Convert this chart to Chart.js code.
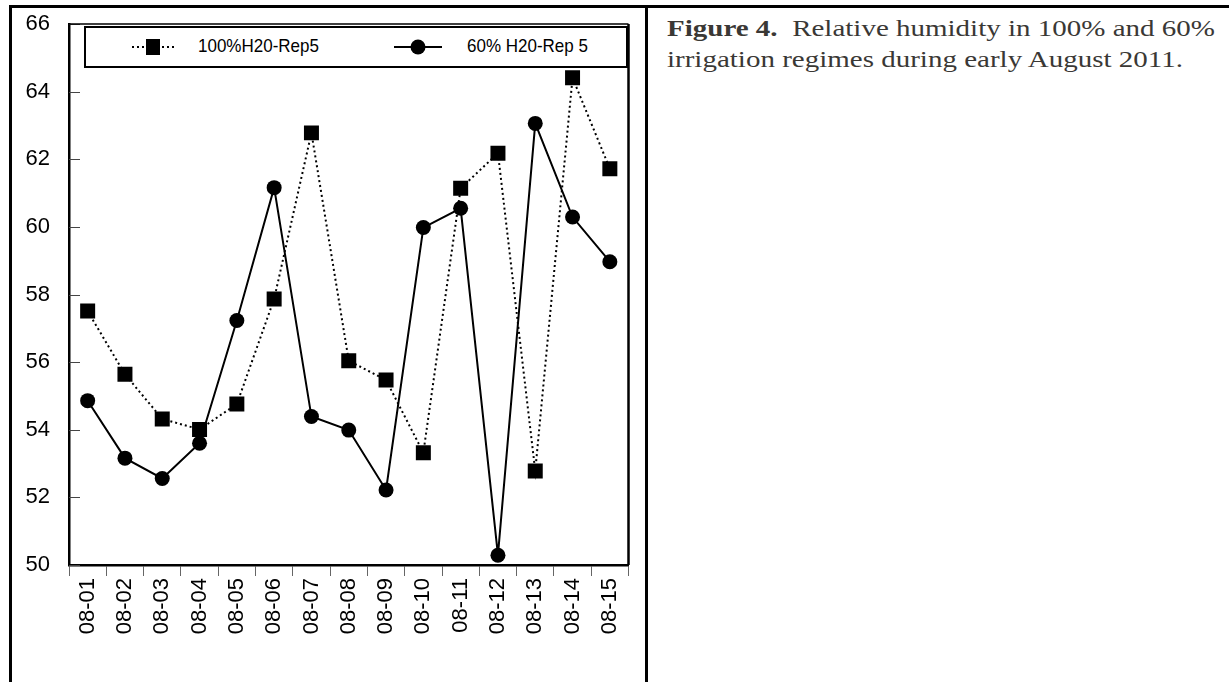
<!DOCTYPE html>
<html>
<head>
<meta charset="utf-8">
<script src="https://cdn.jsdelivr.net/npm/chart.js@4.4.1/dist/chart.umd.min.js"></script>
<style>
  html, body { margin: 0; padding: 0; background: #fff; }
  body { width: 1229px; height: 682px; position: relative; overflow: hidden; }
  .frame-top { position: absolute; left: 9px; top: 5px; width: 1220px; height: 3px; background: #000; }
  .frame-left { position: absolute; left: 9px; top: 5px; width: 3px; height: 677px; background: #000; }
  .frame-mid { position: absolute; left: 645px; top: 5px; width: 3px; height: 677px; background: #000; }
  #wrap { position: absolute; left: 0; top: 0; width: 645px; height: 682px; }
  .legend { position: absolute; left: 84px; top: 26px; width: 540px; height: 38px; border: 2px solid #000;
            font-family: "Liberation Sans", Arial, sans-serif; font-size: 17px; color: #000; background: #fff; }
  .item { position: absolute; top: 0; height: 38px; white-space: nowrap; }
  .item span { position: absolute; top: 8px; line-height: 20px; display: inline-block; transform: scaleY(1.12); transform-origin: left center; }
  .caption { position: absolute; left: 667px; top: 12px; font-family: "Liberation Serif", "Times New Roman", serif;
             font-size: 29px; line-height: 38px; color: #3a3835; white-space: nowrap;
             transform: scaleY(0.82); transform-origin: left top; }
  .caption b { font-weight: bold; }
</style>
</head>
<body>
<div class="frame-top"></div>
<div class="frame-left"></div>
<div class="frame-mid"></div>
<div id="wrap"><canvas id="c" width="645" height="682"></canvas></div>
<div class="legend" id="legend"></div>
<div class="caption"><b>Figure 4.</b>&nbsp; Relative humidity in 100% and 60%<br>irrigation regimes during early August 2011.</div>
<script>
const categories = ["08-01","08-02","08-03","08-04","08-05","08-06","08-07","08-08","08-09","08-10","08-11","08-12","08-13","08-14","08-15"];
const seriesNames = ["100%H20-Rep5", "60% H20-Rep 5"];
const rh100 = [57.51, 55.64, 54.32, 54.01, 54.76, 57.87, 62.78, 56.04, 55.47, 53.32, 61.14, 62.18, 52.78, 64.41, 61.72];
const rh60  = [54.86, 53.16, 52.56, 53.60, 57.23, 61.16, 54.39, 53.99, 52.22, 59.98, 60.55, 50.29, 63.06, 60.29, 58.97];
const yTicks = [50, 52, 54, 56, 58, 60, 62, 64, 66];

// HTML legend
(function(){
  const lg = document.getElementById('legend');
  lg.innerHTML =
    '<div class="item" style="left:44px">' +
      '<svg width="46" height="38" style="display:block"><line x1="2" y1="19" x2="44" y2="19" stroke="#000" stroke-width="2" stroke-dasharray="2,3"/><rect x="16" y="11" width="14" height="16" fill="#000"/></svg>' +
      '<span style="left:68px">' + seriesNames[0] + '</span></div>' +
    '<div class="item" style="left:307px">' +
      '<svg width="50" height="38" style="display:block"><line x1="1" y1="19" x2="49" y2="19" stroke="#000" stroke-width="2"/><circle cx="25" cy="19" r="7.5" fill="#000"/></svg>' +
      '<span style="left:74px">' + seriesNames[1] + '</span></div>';
})();

const boxPlugin = {
  id: 'boxPlugin',
  afterDatasetsDraw(chart) {
    const {ctx, chartArea: a, scales} = chart;
    ctx.save();
    ctx.strokeStyle = '#444';
    ctx.lineWidth = 1;
    yTicks.forEach(v => {
      const y = Math.round(scales.y.getPixelForValue(v)) + 0.5;
      ctx.beginPath(); ctx.moveTo(a.left, y); ctx.lineTo(a.left + 11, y); ctx.stroke();
    });
    ctx.strokeStyle = '#000';
    ctx.lineWidth = 1.5;
    ctx.beginPath(); ctx.moveTo(a.left, a.top); ctx.lineTo(a.right, a.top); ctx.stroke();
    ctx.lineWidth = 2.5;
    ctx.beginPath(); ctx.moveTo(a.right, a.top); ctx.lineTo(a.right, a.bottom); ctx.stroke();
    ctx.restore();
  }
};

new Chart(document.getElementById('c'), {
  type: 'line',
  data: {
    labels: categories,
    datasets: [
      {
        label: seriesNames[0],
        data: rh100,
        borderColor: '#000',
        backgroundColor: '#000',
        borderWidth: 2,
        borderDash: [2, 3],
        pointStyle: 'rect',
        pointRadius: 10.6,
        pointBorderWidth: 0,
        pointBackgroundColor: '#000',
        tension: 0,
        fill: false
      },
      {
        label: seriesNames[1],
        data: rh60,
        borderColor: '#000',
        backgroundColor: '#000',
        borderWidth: 2,
        pointStyle: 'circle',
        pointRadius: 7.5,
        pointBorderWidth: 0,
        pointBackgroundColor: '#000',
        tension: 0,
        fill: false
      }
    ]
  },
  options: {
    responsive: false,
    animation: false,
    devicePixelRatio: 1,
    events: [],
    layout: { padding: { left: 0, top: 24, right: 16.5, bottom: 0 } },
    plugins: { legend: { display: false }, tooltip: { enabled: false }, title: { display: false } },
    scales: {
      x: {
        type: 'category',
        offset: true,
        afterFit(s) { s.height = 117; s.paddingLeft = 0; s.paddingRight = 0; },
        grid: { offset: true, drawOnChartArea: false, drawTicks: true, tickLength: 11, color: '#666', lineWidth: 1 },
        border: { display: true, color: '#000', width: 2.5 },
        ticks: {
          autoSkip: false, maxRotation: 90, minRotation: 90, padding: 2, color: '#000',
          font: { family: '"Liberation Sans", Arial, sans-serif', size: 22 }
        }
      },
      y: {
        min: 50, max: 66,
        afterFit(s) { s.width = 69; s.paddingTop = 0; s.paddingBottom = 0; },
        afterBuildTicks(s) { s.ticks = yTicks.map(v => ({ value: v })); },
        grid: { drawOnChartArea: false, drawTicks: false },
        border: { display: true, color: '#000', width: 2.5 },
        ticks: {
          padding: 19, color: '#000',
          font: { family: '"Liberation Sans", Arial, sans-serif', size: 22 }
        }
      }
    }
  },
  plugins: [boxPlugin]
});
</script>
</body>
</html>
